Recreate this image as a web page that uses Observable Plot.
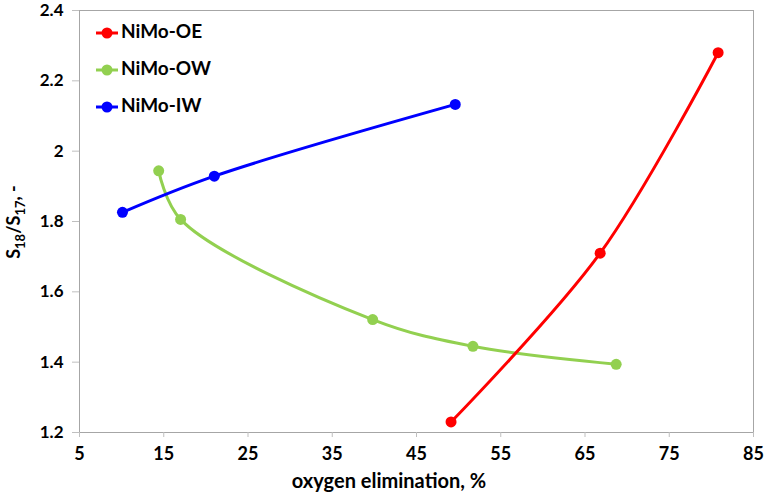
<!DOCTYPE html>
<html>
<head>
<meta charset="utf-8">
<script src="https://cdn.jsdelivr.net/npm/d3@7"></script>
<script src="https://cdn.jsdelivr.net/npm/@observablehq/plot@0.6"></script>
<style>
  html, body { margin: 0; padding: 0; background: #fff; }
  #chart { width: 765px; height: 498px; }
</style>
</head>
<body>
<div id="chart"></div>
<script>
// ---- data ----
const seriesNames = ["NiMo-OE", "NiMo-OW", "NiMo-IW"];
const seriesColors = ["#ff0000", "#92d050", "#0000ff"];

const oeX = [49.1, 66.8, 80.8];
const oeY = [1.23, 1.71, 2.28];

const owX = [14.4, 17.0, 39.8, 51.7, 68.7];
const owY = [1.944, 1.806, 1.521, 1.445, 1.394];

const iwX = [10.1, 21.0, 49.6];
const iwY = [1.826, 1.929, 2.133];

const xDomain = [5, 85];
const yDomain = [1.2, 2.4];
const xTicks = [5, 15, 25, 35, 45, 55, 65, 75, 85];
const yTicks = [1.2, 1.4, 1.6, 1.8, 2, 2.2, 2.4];
const xTitle = "oxygen elimination, %";

const toRows = (xs, ys, s) => xs.map((x, i) => ({x, y: ys[i], series: s}));
const oe = toRows(oeX, oeY, seriesNames[0]);
const ow = toRows(owX, owY, seriesNames[1]);
const iw = toRows(iwX, iwY, seriesNames[2]);

const FONT = "Lato, 'Open Sans', sans-serif";
const lw = 3, r = 5.5;

const chart = Plot.plot({
  width: 765,
  height: 498,
  marginLeft: 79,
  marginRight: 12,
  marginTop: 10,
  marginBottom: 66,
  style: {fontFamily: FONT, fontSize: "18px", fontWeight: "bold", color: "#000", background: "#fff"},
  x: {domain: xDomain},
  y: {domain: yDomain},
  marks: [
    Plot.frame({stroke: "#a6a6a6", strokeWidth: 1}),
    Plot.axisX({ticks: xTicks, tickSize: 5, tickPadding: 10, stroke: "#bfbfbf", fill: "#000", label: null, tickFormat: d => String(d)}),
    Plot.axisY({ticks: yTicks, tickSize: 7, tickPadding: 9, fontSize: 17, stroke: "#bfbfbf", fill: "#000", label: null, tickFormat: d => String(d)}),
    Plot.line(ow, {x: "x", y: "y", stroke: seriesColors[1], strokeWidth: lw, curve: "catmull-rom"}),
    Plot.dot(ow, {x: "x", y: "y", r, fill: seriesColors[1]}),
    Plot.line(oe, {x: "x", y: "y", stroke: seriesColors[0], strokeWidth: lw, curve: "catmull-rom"}),
    Plot.dot(oe, {x: "x", y: "y", r, fill: seriesColors[0]}),
    Plot.line(iw, {x: "x", y: "y", stroke: seriesColors[2], strokeWidth: lw, curve: "catmull-rom"}),
    Plot.dot(iw, {x: "x", y: "y", r, fill: seriesColors[2]})
  ]
});

document.getElementById("chart").appendChild(chart);

// ---- titles and legend, drawn as real SVG text ----
const svg = d3.select(chart);

// x title
svg.append("text")
  .attr("x", 389)
  .attr("y", 483)
  .attr("text-anchor", "middle")
  .attr("dominant-baseline", "middle")
  .style("font-family", FONT).style("font-size", "20px").style("font-weight", "bold")
  .attr("fill", "#000")
  .text(xTitle);

// y title with subscripts
const yt = svg.append("text")
  .attr("transform", "translate(20,222) rotate(-90)")
  .attr("text-anchor", "middle")
  .style("font-family", FONT).style("font-size", "18px").style("font-weight", "bold")
  .attr("fill", "#000");
yt.append("tspan").text("S");
yt.append("tspan").attr("dy", 5).style("font-size", "13px").text("18");
yt.append("tspan").attr("dy", -5).text("/S");
yt.append("tspan").attr("dy", 5).style("font-size", "13px").text("17");
yt.append("tspan").attr("dy", -5).text(", -");

// legend
const legendRows = [33, 70, 107];
const lg = svg.append("g");
seriesNames.forEach((name, i) => {
  const g = lg.append("g").attr("transform", `translate(0,${legendRows[i]})`);
  g.append("line").attr("x1", 96).attr("x2", 118).attr("y1", 0).attr("y2", 0)
    .attr("stroke", seriesColors[i]).attr("stroke-width", lw);
  g.append("circle").attr("cx", 107).attr("cy", 0).attr("r", r).attr("fill", seriesColors[i]);
  g.append("text").attr("x", 121).attr("y", 0)
    .attr("text-anchor", "start")
    .attr("dominant-baseline", "middle")
    .style("font-family", FONT).style("font-size", "19px").style("font-weight", "bold")
    .attr("fill", "#000").text(name);
});
</script>
</body>
</html>
